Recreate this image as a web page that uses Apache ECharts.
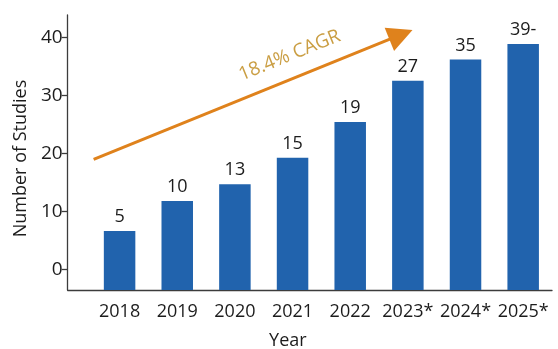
<!DOCTYPE html>
<html>
<head>
<meta charset="utf-8">
<script src="https://cdn.jsdelivr.net/npm/echarts@6/dist/echarts.min.js"></script>
<style>html,body{margin:0;padding:0;background:#fff}#c{width:558px;height:349px}</style>
</head>
<body>
<div id="c"></div>
<script>
// ---- data ----
var categories = ['2018', '2019', '2020', '2021', '2022', '2023*', '2024*', '2025*'];
var barHeights = [6.6, 11.8, 14.7, 19.3, 25.5, 32.6, 36.3, 39.0];
var barLabels = ['5', '10', '13', '15', '19', '27', '35', '39-'];
var yTicks = [0, 10, 20, 30, 40];
var cagrText = '18.4% CAGR';
// arrow (in category-index units / y values)
var arrowStart = [-0.45, 19.0];
var arrowEnd = [4.88, 40.6];
var cagrPos = [2.95, 37.0];

// ---- layout ----
var font = 'Open Sans';
var textColor = '#1c1c1c';
var axisColor = '#3c3c3c';
var yMin = -3.6, yMax = 44;
var axisLeft = 67.7, plotRight = 6, plotTop = 15, plotBottom = 59;
var bandW = (558 - plotRight - axisLeft) / (categories.length + 0.4);
var barGridLeft = axisLeft + 0.4 * bandW;
var xMinIdx = -0.5 - 0.4;
var xMaxIdx = categories.length - 0.5;

var chart = echarts.init(document.getElementById('c'), null, {renderer: 'canvas'});
chart.setOption({
  animation: false,
  backgroundColor: '#fff',
  textStyle: {fontFamily: font},
  grid: [
    {left: axisLeft, right: plotRight, top: plotTop, bottom: plotBottom, outerBoundsMode: 'none', containLabel: false},
    {left: barGridLeft, right: plotRight, top: plotTop, bottom: plotBottom, outerBoundsMode: 'none', containLabel: false},
    {left: axisLeft, right: plotRight, top: 37.7, bottom: 79.7, outerBoundsMode: 'none', containLabel: false}
  ],
  xAxis: [
    {gridIndex: 0, type: 'value', min: xMinIdx, max: xMaxIdx,
     axisLine: {show: true, onZero: false, lineStyle: {color: axisColor, width: 1.3}},
     axisTick: {show: false}, axisLabel: {show: false}, splitLine: {show: false},
     name: 'Year', nameLocation: 'middle', nameGap: 42,
     nameTextStyle: {fontSize: 18, color: textColor, fontFamily: font, padding: [0, 44, 0, 0]}},
    {gridIndex: 1, type: 'category', data: categories,
     axisLine: {show: false},
     axisTick: {show: true, alignWithLabel: true, length: 5, lineStyle: {color: axisColor, width: 1.3}},
     axisLabel: {fontSize: 18, color: textColor, fontFamily: font, margin: 13, interval: 0}},
    {gridIndex: 2, type: 'value', show: false, min: 0, max: 1}
  ],
  yAxis: [
    {gridIndex: 0, type: 'value', min: yMin, max: yMax,
     axisLine: {show: true, onZero: false, lineStyle: {color: axisColor, width: 1.3}},
     axisTick: {show: false}, axisLabel: {show: false}, splitLine: {show: false}},
    {gridIndex: 1, type: 'value', min: yMin, max: yMax, startValue: yMin, show: false, splitLine: {show: false}},
    {gridIndex: 2, type: 'value', min: yTicks[0], max: yTicks[yTicks.length - 1], interval: yTicks[1] - yTicks[0],
     axisLine: {show: false, onZero: false},
     axisTick: {show: true, length: 6, lineStyle: {color: axisColor, width: 1.3}},
     axisLabel: {fontSize: 19, color: textColor, fontFamily: font, margin: 5},
     splitLine: {show: false},
     name: 'Number of Studies', nameLocation: 'middle', nameGap: 37,
     nameTextStyle: {fontSize: 18, color: textColor, fontFamily: font, padding: [0, 10, 0, 0]}}
  ],
  series: [
    {type: 'bar', xAxisIndex: 1, yAxisIndex: 1, data: barHeights, barWidth: 31.5,
     itemStyle: {color: '#2163ad'},
     label: {show: true, position: 'top', distance: 5, fontSize: 18, color: textColor, fontFamily: font,
             formatter: function (p) { return barLabels[p.dataIndex]; }}},
    {type: 'scatter', xAxisIndex: 0, yAxisIndex: 0, symbolSize: 0, silent: true,
     data: [cagrPos],
     label: {show: true, position: 'inside', rotate: 22, fontSize: 19, color: '#bd8614', fontFamily: font,
             formatter: function () { return cagrText; }},
     markLine: {silent: true, symbol: ['none', 'triangle'], symbolSize: 25,
       label: {show: false},
       lineStyle: {color: '#df821c', width: 3, type: 'solid'},
       itemStyle: {color: '#df821c'},
       data: [[{coord: arrowStart}, {coord: arrowEnd}]]}}
  ]
});
</script>
</body>
</html>
